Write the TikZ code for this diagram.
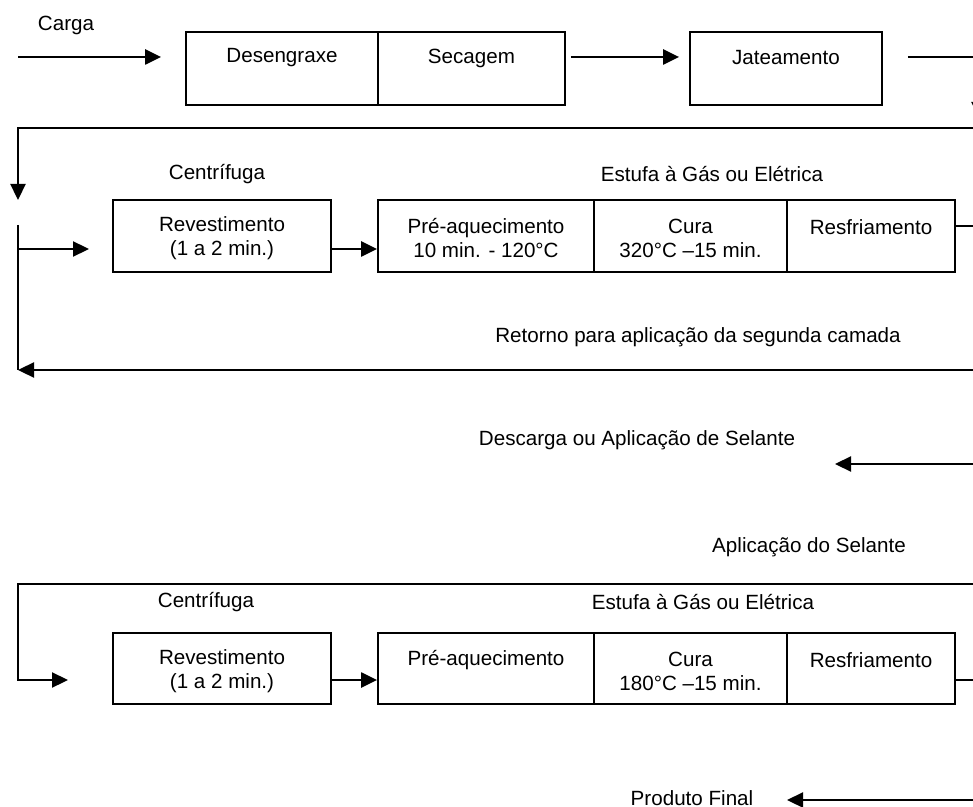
\documentclass[tikz,border=0pt]{standalone}
\usepackage{fontspec}
\setmainfont{Liberation Sans}
\usetikzlibrary{arrows.meta}
\begin{document}
\begin{tikzpicture}[x=0.5pt,y=-0.5pt,
  every node/.style={font=\fontsize{10.3}{12}\selectfont, inner sep=0pt},
  proc/.style={draw, line width=0.9pt, minimum height=36pt},
  ln/.style={line width=1.15pt},
  arr/.style={line width=1.15pt, -{Triangle[length=8pt,width=7.5pt]}}]
\useasboundingbox (0,0) rectangle (973,807);

% ---------- row 1 ----------
\node[proc, minimum width=96pt, minimum height=36.5pt] (des) at (282,68.5) {};
\node[proc, minimum width=93.5pt, minimum height=36.5pt] (sec) at (471.5,68.5) {};
\node[proc, minimum width=96pt, minimum height=36.5pt] (jat) at (786,68.5) {};
\node (tcarga) at (66,25) {Carga};
\node (tdes) at (282,58) {Desengraxe};
\node (tsec) at (471.5,58) {Secagem};
\node (tjat) at (786,58) {Jateamento};

\coordinate (in) at (18,57);
\coordinate (rt) at (979,57);
\coordinate (rd) at (979,118);
\draw[arr] (in) -- ([xshift=-12pt]des.west |- in);
\draw[arr] ([xshift=2.5pt]sec.east |- in) -- ([xshift=-5pt]jat.west |- in);
\draw[arr] ([xshift=12.5pt]jat.east |- in) -- (rt) -- (rd);

% ---------- loop line ----------
\coordinate (r1) at (990,128);
\coordinate (l1) at (18,128);
\coordinate (l1d) at (18,200);
\draw[arr] (r1) -- (l1) -- (l1d);

% ---------- row 2 ----------
\node (tcen1) at (217,174) {Centrífuga};
\node (test1) at (712,174) {Estufa à Gás ou Elétrica};
\node[proc, minimum width=109pt] (rev1) at (222,236) {};
\node[proc, minimum width=108pt] (pre1) at (486,236) {};
\node[proc, minimum width=96.5pt] (cur1) at (690.5,236) {};
\node[proc, minimum width=84pt] (res1) at (871,236) {};
\node[align=center] (trev1) at (222,238.5) {Revestimento\\(1 a 2 min.)};
\node[align=center] (tpre1) at (486,238.5) {Pré-aquecimento\\10 min. - 120°C};
\node[align=center] (tcur1) at (690.5,238.5) {Cura\\320°C –15 min.};
\node (tres1) at (871,227) {Resfriamento};

\coordinate (l2t) at (18,225);
\coordinate (l2m) at (18,249);
\coordinate (l2b) at (18,370);
\coordinate (a2) at (89,249);
\draw[ln] (l2t) -- (l2b);
\draw[arr] (l2m) -- (a2);
\draw[arr] (rev1.east |- l2m) -- (pre1.west |- l2m);
\coordinate (r2) at (990,226);
\draw[ln] (res1.east |- r2) -- (r2);

\node (tret) at (698,337) {Retorno para aplicação da segunda camada};
\coordinate (r3) at (990,370);
\draw[arr] (r3) -- (l2b);

% ---------- descarga ----------
\node (tdesc) at (637,440) {Descarga ou Aplicação de Selante};
\coordinate (r4) at (990,464);
\coordinate (a4) at (835,464);
\draw[arr] (r4) -- (a4);

\node (tapl) at (809,547) {Aplicação do Selante};

% ---------- row 3 ----------
\coordinate (r5) at (990,584);
\coordinate (l5) at (18,584);
\coordinate (l5d) at (18,680);
\coordinate (a5) at (68,680);
\draw[arr] (r5) -- (l5) -- (l5d) -- (a5);

\node (tcen2) at (206,602) {Centrífuga};
\node (test2) at (703,602) {Estufa à Gás ou Elétrica};
\node[proc, minimum width=109pt, minimum height=35.5pt] (rev2) at (222,668.5) {};
\node[proc, minimum width=108pt, minimum height=35.5pt] (pre2) at (486,668.5) {};
\node[proc, minimum width=96.5pt, minimum height=35.5pt] (cur2) at (690.5,668.5) {};
\node[proc, minimum width=84pt, minimum height=35.5pt] (res2) at (871,668.5) {};
\node[align=center] (trev2) at (222,671.5) {Revestimento\\(1 a 2 min.)};
\node (tpre2) at (486,660) {Pré-aquecimento};
\node[align=center] (tcur2) at (690.5,671.5) {Cura\\180°C –15 min.};
\node (tres2) at (871,660) {Resfriamento};

\draw[arr] (rev2.east |- a5) -- (pre2.west |- a5);
\coordinate (r6) at (990,680);
\draw[ln] (res2.east |- r6) -- (r6);

% ---------- produto final ----------
\node (tprod) at (692,798) {Produto Final};
\coordinate (r7) at (990,800);
\coordinate (a7) at (787,800);
\draw[arr] (r7) -- (a7);
\end{tikzpicture}
\end{document}
